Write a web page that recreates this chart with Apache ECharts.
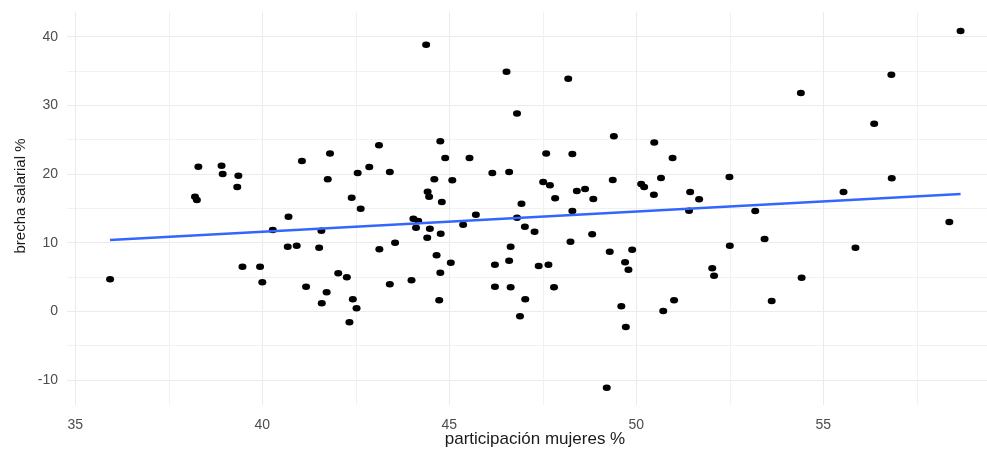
<!DOCTYPE html>
<html>
<head>
<meta charset="utf-8">
<script src="https://cdn.jsdelivr.net/npm/echarts@6/dist/echarts.min.js"></script>
<style>
html,body{margin:0;padding:0;background:#fff;}
#chart{width:987px;height:450px;}
</style>
</head>
<body>
<div id="chart"></div>
<script>
// participación mujeres %
const participacion = [
35.93,38.2,38.25,38.29,38.91,38.94,39.36,39.33,39.47,39.94,
40.0,40.28,40.7,40.68,40.92,41.06,41.17,41.58,41.52,41.72,
41.59,41.75,41.81,42.03,42.26,42.39,42.42,42.52,42.33,42.55,
42.63,42.86,43.12,43.13,43.41,43.41,43.55,43.99,44.04,44.17,
44.11,44.38,44.42,44.46,44.48,44.41,44.6,44.76,44.77,44.8,
44.89,44.66,44.76,44.73,45.08,45.04,45.37,45.54,45.71,46.15,
46.22,46.22,46.53,46.6,46.64,46.6,46.64,46.81,46.81,46.93,
46.89,47.02,47.03,47.28,47.39,47.51,47.59,47.65,47.69,47.8,
47.83,48.18,48.24,48.29,48.29,48.41,48.63,48.82,48.85,49.21,
49.29,49.37,49.4,49.6,49.7,49.72,49.79,49.89,50.13,50.21,
50.47,50.48,50.66,50.72,50.97,51.01,51.41,51.44,51.68,52.03,
52.08,52.49,52.5,53.18,53.43,53.62,54.4,54.42,55.54,55.86,
56.36,56.82,56.83,58.37,58.67
];
// brecha salarial %
const brecha = [
4.66,16.7,16.2,21.06,21.2,20.0,19.75,18.1,6.5,6.5,
4.22,11.84,13.78,9.41,9.56,21.9,3.58,11.74,9.27,2.77,
1.17,19.22,23.0,5.54,4.95,16.55,1.75,0.44,-1.6,20.15,
14.95,21.02,24.18,9.03,20.29,3.93,10.0,4.52,13.49,13.15,
12.18,38.84,17.42,16.7,12.04,10.72,19.22,24.76,11.31,15.92,
22.33,8.16,5.62,1.6,19.08,7.08,12.62,22.33,14.07,20.15,
6.79,3.58,34.9,20.29,9.41,7.37,3.49,28.8,13.64,15.67,
-0.73,12.33,1.75,11.6,6.6,18.83,23.0,6.79,18.35,3.49,
16.46,33.88,10.14,22.91,14.61,17.52,17.81,11.21,16.36,-11.13,
8.68,19.13,25.49,0.73,7.14,-2.29,6.07,8.98,18.54,18.1,
16.99,24.6,19.42,0.04,22.33,1.6,14.65,17.38,16.31,6.26,
5.19,19.56,9.56,14.61,10.53,1.5,31.8,4.9,17.38,9.27,
27.33,34.47,19.37,13.0,40.83
];
// fitted line end points
const trendX = [35.93, 58.67];
const trendY = [10.39, 17.09];

const xTicks = [35, 40, 45, 50, 55];
const yTicks = [-10, 0, 10, 20, 30, 40];

const points = participacion.map((x, i) => [x, brecha[i]]);
const trend = trendX.map((x, i) => [x, trendY[i]]);

const chart = echarts.init(document.getElementById('chart'), null, {renderer: 'canvas'});
const gridColor = '#ebebeb';
const minorColor = '#f1f1f1';
const font = 'Liberation Sans, Arial, sans-serif';
const option = {
  animation: false,
  backgroundColor: '#ffffff',
  grid: [
    // plot panel
    {left: 67, right: 0, top: 12, height: 393, outerBoundsMode: 'none', containLabel: false},
    // vertical grid lines + x labels
    {left: 75.3, right: 0, top: 12, height: 393, outerBoundsMode: 'none', containLabel: false},
    // horizontal grid lines + y labels
    {left: 67, right: 0, top: 36.7, height: 343.25, outerBoundsMode: 'none', containLabel: false}
  ],
  xAxis: [
    {gridIndex: 0, type: 'value', min: 34.778, max: 59.377, show: false, splitLine: {show: false}},
    {gridIndex: 1, type: 'value', min: xTicks[0], max: 59.377, interval: 5,
      axisLine: {show: false}, axisTick: {show: false},
      axisLabel: {color: '#4d4d4d', fontSize: 14, margin: 13, fontFamily: font,
        showMaxLabel: false,
        formatter: v => (xTicks.indexOf(v) >= 0 ? String(v) : '')},
      splitLine: {show: true, lineStyle: {color: gridColor, width: 1}},
      minorTick: {show: false, splitNumber: 2},
      minorSplitLine: {show: true, lineStyle: {color: minorColor, width: 1}}
    },
    {gridIndex: 2, type: 'value', min: 0, max: 1, show: false, splitLine: {show: false}}
  ],
  yAxis: [
    {gridIndex: 0, type: 'value', min: -13.65, max: 43.6, show: false, splitLine: {show: false}},
    {gridIndex: 1, type: 'value', min: 0, max: 1, show: false, splitLine: {show: false}},
    {gridIndex: 2, type: 'value', min: yTicks[0], max: yTicks[yTicks.length - 1], interval: 10,
      axisLine: {show: false}, axisTick: {show: false},
      axisLabel: {color: '#4d4d4d', fontSize: 14, margin: 9, fontFamily: font},
      splitLine: {show: true, lineStyle: {color: gridColor, width: 1}},
      minorTick: {show: false, splitNumber: 2},
      minorSplitLine: {show: true, lineStyle: {color: minorColor, width: 1}}
    }
  ],
  graphic: [
    {type: 'text', x: 21, y: 196, rotation: Math.PI / 2,
      style: {text: 'brecha salarial %', fill: '#1a1a1a', fontSize: 15,
        fontFamily: font, align: 'center', verticalAlign: 'middle'}},
    {type: 'text', x: 535, y: 439,
      style: {text: 'participación mujeres %', fill: '#1a1a1a', fontSize: 17,
        fontFamily: font, align: 'center', verticalAlign: 'middle'}}
  ],
  series: [
    {type: 'scatter', xAxisIndex: 0, yAxisIndex: 0, data: points,
      symbol: 'circle', symbolSize: [8, 6.5],
      itemStyle: {color: '#000000', opacity: 1}, z: 3},
    {type: 'line', xAxisIndex: 0, yAxisIndex: 0, data: trend,
      showSymbol: false, symbol: 'none',
      lineStyle: {color: '#3366FF', width: 2.5}, z: 4}
  ]
};
chart.setOption(option);
</script>
</body>
</html>
